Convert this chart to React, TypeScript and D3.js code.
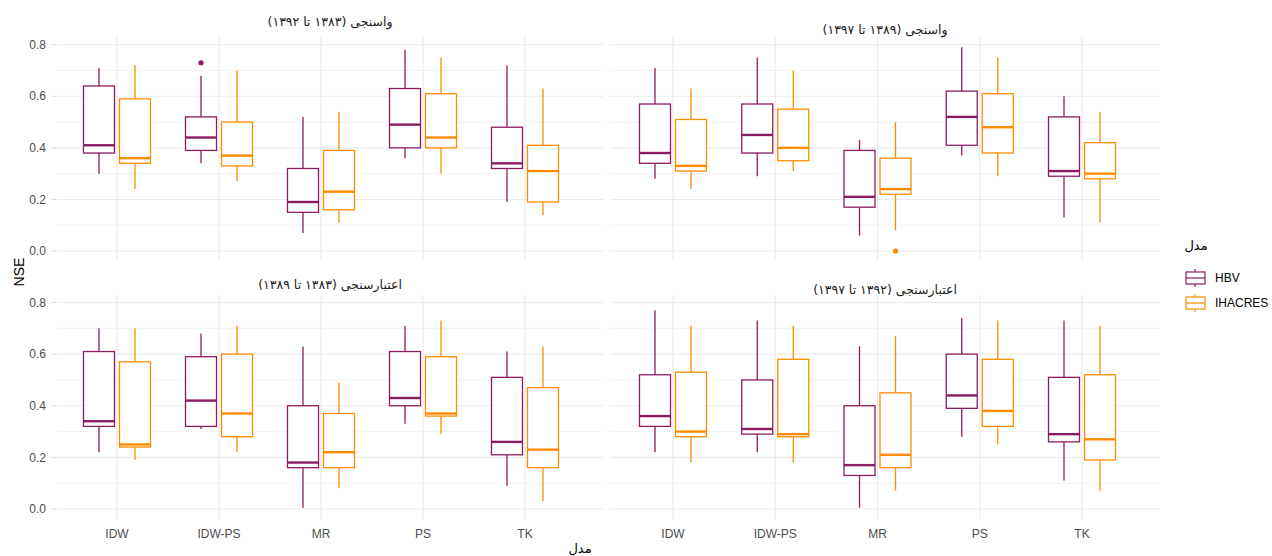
import React from "react";
import * as d3 from "d3";

const categories = ["IDW", "IDW-PS", "MR", "PS", "TK"];
const models = ["HBV", "IHACRES"];
const modelColors = ["#8B1C62", "#FF8C00"];
const yMajorTicks = [0, 0.2, 0.4, 0.6, 0.8];
const yMinorTicks = [0.1, 0.3, 0.5, 0.7];
const panelTitles = [
  "واسنجی (۱۳۸۳ تا ۱۳۹۲)",
  "واسنجی (۱۳۸۹ تا ۱۳۹۷)",
  "اعتبارسنجی (۱۳۸۳ تا ۱۳۸۹)",
  "اعتبارسنجی (۱۳۹۲ تا ۱۳۹۷)",
];
const xTitle = "مدل";
const yTitle = "NSE";
const legendTitle = "مدل";

// each row: [lower whisker, q1, median, q3, upper whisker]
const p1HBV = [
  [0.30, 0.38, 0.41, 0.64, 0.71],
  [0.34, 0.39, 0.44, 0.52, 0.68],
  [0.07, 0.15, 0.19, 0.32, 0.52],
  [0.36, 0.40, 0.49, 0.63, 0.78],
  [0.19, 0.32, 0.34, 0.48, 0.72],
];
const p1IHACRES = [
  [0.24, 0.34, 0.36, 0.59, 0.72],
  [0.27, 0.33, 0.37, 0.50, 0.70],
  [0.11, 0.16, 0.23, 0.39, 0.54],
  [0.30, 0.40, 0.44, 0.61, 0.75],
  [0.14, 0.19, 0.31, 0.41, 0.63],
];
const p2HBV = [
  [0.28, 0.34, 0.38, 0.57, 0.71],
  [0.29, 0.38, 0.45, 0.57, 0.75],
  [0.06, 0.17, 0.21, 0.39, 0.43],
  [0.37, 0.41, 0.52, 0.62, 0.79],
  [0.13, 0.29, 0.31, 0.52, 0.60],
];
const p2IHACRES = [
  [0.24, 0.31, 0.33, 0.51, 0.63],
  [0.31, 0.35, 0.40, 0.55, 0.70],
  [0.08, 0.22, 0.24, 0.36, 0.50],
  [0.29, 0.38, 0.48, 0.61, 0.75],
  [0.11, 0.28, 0.30, 0.42, 0.54],
];
const p3HBV = [
  [0.22, 0.32, 0.34, 0.61, 0.70],
  [0.31, 0.32, 0.42, 0.59, 0.68],
  [0.005, 0.16, 0.18, 0.40, 0.63],
  [0.33, 0.40, 0.43, 0.61, 0.71],
  [0.09, 0.21, 0.26, 0.51, 0.61],
];
const p3IHACRES = [
  [0.19, 0.24, 0.25, 0.57, 0.70],
  [0.22, 0.28, 0.37, 0.60, 0.71],
  [0.08, 0.16, 0.22, 0.37, 0.49],
  [0.29, 0.36, 0.37, 0.59, 0.73],
  [0.03, 0.16, 0.23, 0.47, 0.63],
];
const p4HBV = [
  [0.22, 0.32, 0.36, 0.52, 0.77],
  [0.22, 0.29, 0.31, 0.50, 0.73],
  [0.005, 0.13, 0.17, 0.40, 0.63],
  [0.28, 0.39, 0.44, 0.60, 0.74],
  [0.11, 0.26, 0.29, 0.51, 0.73],
];
const p4IHACRES = [
  [0.18, 0.28, 0.30, 0.53, 0.71],
  [0.18, 0.28, 0.29, 0.58, 0.71],
  [0.07, 0.16, 0.21, 0.45, 0.67],
  [0.25, 0.32, 0.38, 0.58, 0.73],
  [0.07, 0.19, 0.27, 0.52, 0.71],
];
// outliers: [panel index, category, model index, value]
const outliers: [number, string, number, number][] = [
  [0, "IDW-PS", 0, 0.73],
  [1, "MR", 1, 0.0],
];

const panelStats = [
  [p1HBV, p1IHACRES],
  [p2HBV, p2IHACRES],
  [p3HBV, p3IHACRES],
  [p4HBV, p4IHACRES],
];

// layout
const panels = [
  { x0: 57, x1: 603, y0: 37, y1: 260, xr: [117, 525], yr: [251, 44.7], ty: 22 },
  { x0: 610, x1: 1160, y0: 37, y1: 260, xr: [673, 1082], yr: [251, 44.7], ty: 30 },
  { x0: 57, x1: 603, y0: 295, y1: 519, xr: [117, 525], yr: [509, 302.5], ty: 285 },
  { x0: 610, x1: 1160, y0: 295, y1: 519, xr: [673, 1082], yr: [509, 302.5], ty: 290 },
];

const FONT = "'Liberation Sans', Arial, sans-serif";
const FA_FONT = "'DejaVu Sans', 'Noto Sans', sans-serif";
const dodge = 18;
const boxW = 31;

function Panel({ idx }: { idx: number }) {
  const p = panels[idx];
  const x = d3.scalePoint<string>().domain(categories).range(p.xr as [number, number]);
  const y = d3.scaleLinear().domain([0, 0.8]).range(p.yr as [number, number]);
  const stats = panelStats[idx];
  const showY = idx % 2 === 0;
  const showX = idx >= 2;
  return (
    <g>
      {yMinorTicks.map((t) => (
        <line key={"mi" + t} x1={p.x0} x2={p.x1} y1={y(t)} y2={y(t)} stroke="#ebebeb" strokeWidth={0.6} />
      ))}
      {yMajorTicks.map((t) => (
        <line key={"ma" + t} x1={p.x0} x2={p.x1} y1={y(t)} y2={y(t)} stroke="#ebebeb" strokeWidth={1.1} />
      ))}
      {categories.map((c) => (
        <line key={"v" + c} x1={x(c)!} x2={x(c)!} y1={p.y0} y2={p.y1} stroke="#ebebeb" strokeWidth={1.1} />
      ))}
      {showY &&
        yMajorTicks.map((t) => (
          <g key={"yt" + t}>
            <line x1={p.x0 - 5} x2={p.x0 - 1} y1={y(t)} y2={y(t)} stroke="#d9d9d9" strokeWidth={1} />
            <text x={p.x0 - 11} y={y(t)} dy="0.35em" textAnchor="end" fontSize={12} fill="#4d4d4d" fontFamily={FONT}>
              {t.toFixed(1)}
            </text>
          </g>
        ))}
      {showX &&
        categories.map((c) => (
          <text key={"xt" + c} x={x(c)!} y={p.y1 + 19} textAnchor="middle" fontSize={12} fill="#4d4d4d" fontFamily={FONT}>
            {c}
          </text>
        ))}
      <text
        x={(p.x0 + p.x1) / 2}
        y={p.ty}
        dy="0.35em"
        textAnchor="middle"
        direction="rtl"
        fontSize={12.5}
        fill="#1a1a1a"
        fontFamily={FA_FONT}
      >
        {panelTitles[idx]}
      </text>
      {models.map((m, mi) =>
        categories.map((c, ci) => {
          const s = stats[mi][ci];
          const cx = x(c)! + (mi === 0 ? -dodge : dodge);
          const col = modelColors[mi];
          return (
            <g key={m + c}>
              <line x1={cx} x2={cx} y1={y(s[4])} y2={y(s[3])} stroke={col} strokeWidth={1.3} />
              <line x1={cx} x2={cx} y1={y(s[1])} y2={y(s[0])} stroke={col} strokeWidth={1.3} />
              <rect
                x={cx - boxW / 2}
                y={y(s[3])}
                width={boxW}
                height={y(s[1]) - y(s[3])}
                fill="white"
                stroke={col}
                strokeWidth={1.3}
              />
              <line x1={cx - boxW / 2} x2={cx + boxW / 2} y1={y(s[2])} y2={y(s[2])} stroke={col} strokeWidth={2.4} />
            </g>
          );
        })
      )}
      {outliers
        .filter((o) => o[0] === idx)
        .map((o, i) => (
          <circle
            key={"o" + i}
            cx={x(o[1])! + (o[2] === 0 ? -dodge : dodge)}
            cy={y(o[3])}
            r={2.6}
            fill={modelColors[o[2]]}
          />
        ))}
    </g>
  );
}

export default function App() {
  return (
    <svg width={1272} height={556} style={{ display: "block", position: "absolute", left: 0, top: 0 }}>
      <rect width={1272} height={556} fill="white" />
      {panels.map((_, i) => (
        <Panel key={i} idx={i} />
      ))}
      <text
        transform="translate(19,272) rotate(-90)"
        textAnchor="middle"
        dy="0.35em"
        fontSize={14}
        fill="#000"
        fontFamily={FONT}
      >
        {yTitle}
      </text>
      <text x={580} y={548} dy="0.35em" textAnchor="middle" direction="rtl" fontSize={13} fill="#000" fontFamily={FA_FONT}>
        {xTitle}
      </text>
      <text x={1196} y={245} dy="0.35em" textAnchor="middle" direction="rtl" fontSize={13} fill="#000" fontFamily={FA_FONT}>
        {legendTitle}
      </text>
      {models.map((m, i) => {
        const cy = 278 + i * 25;
        const col = modelColors[i];
        return (
          <g key={m}>
            <line x1={1195} x2={1195} y1={cy - 9} y2={cy + 9} stroke={col} strokeWidth={1.2} />
            <rect x={1186} y={cy - 6} width={19} height={12} fill="white" stroke={col} strokeWidth={1.2} />
            <line x1={1186} x2={1205} y1={cy} y2={cy} stroke={col} strokeWidth={1.2} />
            <text x={1215} y={cy} dy="0.35em" fontSize={12} fill="#000" fontFamily={FONT}>
              {m}
            </text>
          </g>
        );
      })}
    </svg>
  );
}
